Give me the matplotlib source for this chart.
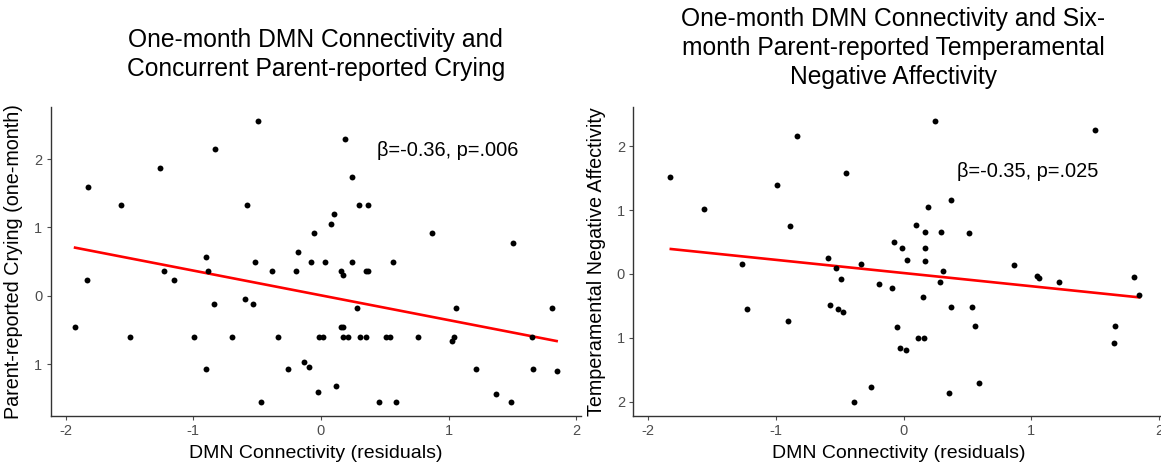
import matplotlib.pyplot as plt
import numpy as np

plt.rcParams['font.family'] = ['Liberation Sans', 'DejaVu Sans']

# ---- left panel: one-month crying ----
cry_x = [-1.827, -1.564, -1.261, -0.833, -0.493, -0.577, -1.83, -1.227, -1.149, -0.903,
         -0.885, -0.514, -0.384, -0.198, -0.183, -1.929, -1.496, -0.997, -0.838, -0.593,
         -0.530, -0.697, -0.334, -0.903, -0.256, -0.472, 0.19, 0.24, 0.298, 0.371,
         0.099, 0.076, -0.052, 0.867, 1.501, -0.078, 0.029, 0.245, 0.564, 0.159,
         0.17, 0.352, 0.371, 0.285, 1.057, 1.806, -0.013, 0.013, 0.154, 0.175,
         0.17, 0.211, 0.308, 0.355, 0.509, 0.540, 0.76, 1.028, 1.041, 1.652,
         -0.133, -0.092, -0.026, 0.115, 0.452, 0.59, 1.216, 1.368, 1.488, 1.658, 1.848]
cry_y = [1.596, 1.33, 1.87, 2.15, 2.56, 1.33, 0.23, 0.365, 0.23, 0.574,
         0.365, 0.50, 0.365, 0.365, 0.642, -0.457, -0.594, -0.594, -0.112, -0.044,
         -0.112, -0.594, -0.594, -1.07, -1.07, -1.55, 2.29, 1.74, 1.33, 1.33,
         1.19, 1.05, 0.915, 0.915, 0.778, 0.50, 0.50, 0.50, 0.50, 0.365,
         0.30, 0.365, 0.365, -0.18, -0.18, -0.18, -0.594, -0.594, -0.453, -0.453,
         -0.594, -0.594, -0.594, -0.594, -0.594, -0.594, -0.594, -0.657, -0.594, -0.594,
         -0.968, -1.04, -1.406, -1.314, -1.55, -1.55, -1.07, -1.43, -1.55, -1.07, -1.105]
cry_fit = (0.008, -0.362)   # intercept, slope
cry_fit_x = [-1.926, 1.846]

# ---- right panel: six-month negative affectivity ----
na_x = [-1.829, -1.562, -0.993, -0.832, -0.886, -0.45, -1.262, -0.594, -0.529, -0.335,
        -0.489, -0.19, -1.228, -0.904, -0.576, -0.515, -0.471, -0.257, -0.385, 0.244,
        1.502, 0.37, 0.19, 0.098, 0.171, 0.294, 0.515, -0.077, -0.009, 0.171,
        0.03, 0.171, 0.863, 0.309, 1.043, 1.059, 1.218, 1.805, 0.286, -0.093,
        0.155, 0.372, 0.539, 0.563, 1.847, 1.659, 1.651, -0.053, 0.116, 0.161,
        -0.027, 0.017, 0.354, 0.589]
na_y = [1.52, 1.016, 1.395, 2.16, 0.745, 1.578, 0.16, 0.255, 0.094, 0.16,
        -0.083, -0.156, -0.547, -0.74, -0.484, -0.547, -0.6, -1.766, -2.0, 2.395,
        2.255, 1.15, 1.04, 0.766, 0.661, 0.661, 0.635, 0.5, 0.411, 0.406,
        0.214, 0.208, 0.146, 0.047, -0.031, -0.068, -0.125, -0.047, -0.12, -0.22,
        -0.354, -0.516, -0.516, -0.807, -0.333, -0.807, -1.078, -0.823, -1.005, -0.995,
        -1.151, -1.193, -1.854, -1.703]
na_fit = (0.015, -0.206)
na_fit_x = [-1.823, 1.847]

xticks = [-2, -1, 0, 1, 2]
xticklabels = ['-2', '-1', '0', '1', '2']
# minus signs are missing on the y labels in the original
cry_yticks = [-1, 0, 1, 2]
cry_yticklabels = ['1', '0', '1', '2']
na_yticks = [-2, -1, 0, 1, 2]
na_yticklabels = ['2', '1', '0', '1', '2']

W, H = 1161, 465
fig = plt.figure(figsize=(W / 100, H / 100), dpi=100)

ax1 = fig.add_axes([50.7 / W, 49 / H, 530.3 / W, 309.3 / H])
ax2 = fig.add_axes([633.3 / W, 49 / H, 530.3 / W, 309.3 / H])


def style(ax):
    for s in ['top', 'right']:
        ax.spines[s].set_visible(False)
    for s in ['left', 'bottom']:
        ax.spines[s].set_color('#333333')
        ax.spines[s].set_linewidth(1.0)
    ax.tick_params(colors='#4d4d4d', labelsize=10.5, length=3, width=0.8)
    ax.tick_params(axis='x', pad=3)
    ax.tick_params(axis='y', pad=3)


def panel(ax, x, y, fit, fit_x, ylim, yticks, yticklabels, title, title_pad,
          ylabel, note, note_xy):
    ax.scatter(x, y, s=18, color='black', zorder=3, linewidths=0)
    fx = np.array(fit_x)
    ax.plot(fx, fit[0] + fit[1] * fx, color='#ff0000', lw=1.9, zorder=2)
    ax.set_xlim(-2.117, 2.037)
    ax.set_ylim(*ylim)
    ax.set_xticks(xticks)
    ax.set_xticklabels(xticklabels)
    ax.set_yticks(yticks)
    ax.set_yticklabels(yticklabels)
    ax.set_xlabel('DMN Connectivity (residuals)', fontsize=14, labelpad=5)
    ax.set_ylabel(ylabel, fontsize=14.2, labelpad=8)
    ax.set_title(title, fontsize=17.7, pad=title_pad, linespacing=1.28)
    ax.text(note_xy[0], note_xy[1], note, fontsize=14.4, va='center', ha='left')
    style(ax)


panel(ax1, cry_x, cry_y, cry_fit, cry_fit_x, (-1.756, 2.766), cry_yticks, cry_yticklabels,
      'One-month DMN Connectivity and\nConcurrent Parent-reported Crying', 22,
      'Parent-reported Crying (one-month)', '\u03b2=-0.36, p=.006', (0.436, 2.13))

panel(ax2, na_x, na_y, na_fit, na_fit_x, (-2.22, 2.615), na_yticks, na_yticklabels,
      'One-month DMN Connectivity and Six-\nmonth Parent-reported Temperamental\nNegative Affectivity', 16,
      'Temperamental Negative Affectivity', '\u03b2=-0.35, p=.025', (0.417, 1.6))

# right panel title is centered on the visible part of the panel
ax2.title.set_position((0.49, 1.0))

fig.savefig('out.png', dpi=100)
